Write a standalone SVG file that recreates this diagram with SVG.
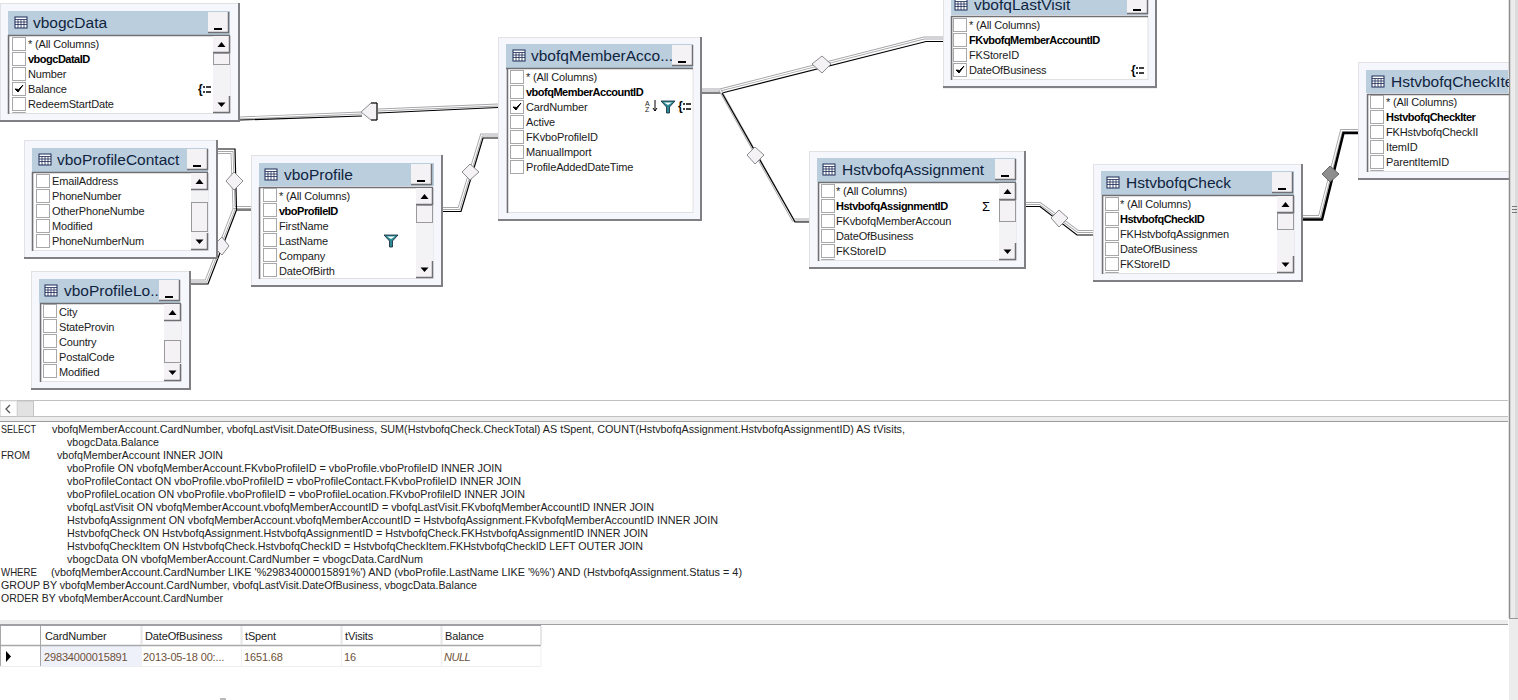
<svg xmlns="http://www.w3.org/2000/svg" width="1518" height="700" viewBox="0 0 1518 700">
<style>
text{font-family:"Liberation Sans",Arial,sans-serif;font-size:11px;fill:#1a1a1a;letter-spacing:-.15px}
.t{font-size:15.5px;fill:#10243f;letter-spacing:0}
.b{font-weight:bold;letter-spacing:-.5px;fill:#000}
.outer{fill:#f6f6fd;stroke:#e2e2e4;stroke-width:1}
.sd{stroke:#808084;stroke-width:2;fill:none}
.band{fill:#bacede}
.list{fill:#fff;stroke:#e0e0e2;stroke-width:1}
.lk{stroke:#707074;stroke-width:1.500;fill:none}
.btn{fill:#f4f2f4;stroke:#9a9a9c;stroke-width:1}
.bf{fill:#f4f2f4}
.bs{fill:none;stroke:#707074;stroke-width:1.500}
.cb{fill:#fff;stroke:#a8a8aa;stroke-width:1}
.track{fill:#f3f3f6}
.w{fill:none;stroke:#a8a8ac;stroke-width:3}
.wi{fill:none;stroke:#fff;stroke-width:1.200}
.k{fill:none;stroke:#000;stroke-width:1.200}
.d{fill:#f4f2f4;stroke:#8a8a8c;stroke-width:1}
.sql{font-size:11px;fill:#222;letter-spacing:0}
.g{fill:#6e5238;font-size:11px}
</style>
<defs>
<g id="tbl"><rect x="0" y="0" width="12" height="11" fill="#fff" stroke="#1b2a55"/><path d="M0 2.500H12M0 5H12M0 7.500H12M3 2.500V11M6 2.500V11M9 2.500V11" stroke="#1b2a55" stroke-width=".8"/></g>
<g id="min"><rect width="21" height="21" class="bf"/><path d="M20.500 0V20.500H0" class="bs"/><path d="M6 17H14" stroke="#000" stroke-width="2"/></g>
<g id="cb"><rect x=".5" y=".5" width="13" height="13" class="cb"/></g>
<path id="chk" d="M3 7l3 3 5-7-4.500 4.500z" fill="#000" stroke="#000"/>
<g id="up"><rect width="17" height="17" class="bf"/><path d="M16.500 0V16.500H0" class="bs"/><path d="M4.500 11H12.500L8.500 6z" fill="#000"/></g>
<g id="dn"><rect width="17" height="17" class="bf"/><path d="M16.500 0V16.500H0" class="bs"/><path d="M4.500 6.500H12.500L8.500 11z" fill="#000"/></g>
<g id="fn"><path d="M0 0H14L8.500 6V12H5.500V6z" fill="#2b8c96" stroke="#123" stroke-width=".8"/><path d="M3 1.500H11L7 4z" fill="#fff"/></g>
<g id="gb"><text x="0" y="8" style="font-size:12px;font-weight:bold;fill:#000">{</text><path d="M5 2H7M5 7H7M8 2H13M8 7H13" stroke="#000" stroke-width="1.600"/></g>
</defs>
<rect width="1518" height="700" fill="#fff"/>

<g id="connectors">
<path class="w" d="M240 118L362 113M378 110L498 105"/><path class="wi" d="M240 118L362 113M378 110L498 105"/><path class="k" d="M240 120L362 116M378 113L498 107.500"/>
<path class="d" d="M361 112L371 103H377V120H371z"/><path d="M371 103H377V120H371" fill="none" stroke="#000"/>

<path class="w" d="M218 152.500H232L234 207.500H251M191 281H206L234 209"/><path class="wi" d="M218 152.500H232L234 207.500H251M191 281H206L234 209"/>
<path class="k" d="M218 149H235L236.500 210H251M191 284H208L236.500 210"/>
<path class="d" d="M226 181L234 172L243 181L234 190z"/>
<path class="d" d="M213 246L222 237L229 246L222 255z"/>

<path class="w" d="M443 208.500H459L481.500 135H498"/><path class="wi" d="M443 208.500H459L481.500 135H498"/><path class="k" d="M443 211.500H461L483 138H498"/>
<path class="d" d="M462 172L470 164L479 172L470 180z"/>

<path class="w" d="M702 90H720L924 38H943"/><path class="wi" d="M702 90H720L924 38H943"/><path class="k" d="M702 93H722L926 41.500H943"/>
<path class="d" d="M812 64L822 56L831 64L822 73z"/>

<path class="w" d="M720 90L793 220H809"/><path class="wi" d="M720 90L793 220H809"/><path class="k" d="M722 93L795 222H809"/>
<path class="d" d="M747 155L755 147L764 155L755 164z"/>

<path class="w" d="M1026 203.500H1040L1078 231.500H1093"/><path class="wi" d="M1026 203.500H1040L1078 231.500H1093"/><path class="k" d="M1026 206.500H1040L1077 235H1093"/>
<path class="d" d="M1051 218L1059 210L1068 218L1059 227z"/>

<path class="w" d="M1303 216.500H1319.500L1341.500 130.500H1358"/><path class="wi" d="M1303 216.500H1319.500L1341.500 130.500H1358"/><path fill="none" stroke="#000" stroke-width="2.500" d="M1303 219.500H1322L1343.500 133H1358"/>
<path d="M1322 174L1330 166L1339 174L1330 182z" fill="#8e8e8e" stroke="#666"/>
</g>

<g id="vbogcData">
<rect x="0.500" y="3.500" width="239" height="118" class="outer"/><path class="sd" d="M239 3V121H0"/>
<rect x="8" y="11" width="222" height="24" class="band"/>
<use href="#tbl" x="15" y="17"/><text class="t" x="33" y="28">vbogcData</text>
<use href="#min" x="208" y="12"/>
<rect x="9" y="35.500" width="221" height="78" class="list"/><path class="lk" d="M8.500 35V114M8 35.500H230"/>
<use href="#cb" x="12" y="37"/><use href="#cb" x="12" y="52"/><use href="#cb" x="12" y="67"/><use href="#cb" x="12" y="82"/><use href="#chk" x="12" y="82"/><use href="#cb" x="12" y="97"/>
<path d="M12.500 113V112.500H25.500V113" fill="none" stroke="#a8a8aa"/>
<text x="28" y="48">* (All Columns)</text><text class="b" x="28" y="63">vbogcDataID</text><text x="28" y="78">Number</text><text x="28" y="93">Balance</text><text x="28" y="108">RedeemStartDate</text>
<use href="#gb" x="198" y="85"/>
<rect x="213" y="36" width="17" height="77" class="track"/><use href="#up" x="213" y="36"/><rect x="213.500" y="53.500" width="16" height="11" class="btn"/><use href="#dn" x="213" y="96"/>
</g>

<g id="vboProfileContact">
<rect x="24.500" y="140.500" width="193" height="118" class="outer"/><path class="sd" d="M217 140V258H24"/>
<rect x="32" y="148" width="176" height="24" class="band"/>
<use href="#tbl" x="39" y="154"/><text class="t" x="57" y="165">vboProfileContact</text>
<use href="#min" x="187" y="149"/>
<rect x="33" y="172.500" width="175" height="78" class="list"/><path class="lk" d="M32.500 172V251M32 172.500H208"/>
<use href="#cb" x="36" y="174"/><use href="#cb" x="36" y="189"/><use href="#cb" x="36" y="204"/><use href="#cb" x="36" y="219"/><use href="#cb" x="36" y="234"/>
<text x="52" y="185">EmailAddress</text><text x="52" y="200">PhoneNumber</text><text x="52" y="215">OtherPhoneNumbe</text><text x="52" y="230">Modified</text><text x="52" y="245">PhoneNumberNum</text>
<rect x="191" y="173" width="17" height="77" class="track"/><use href="#up" x="191" y="173"/><rect x="191.500" y="202.500" width="16" height="29" class="btn"/><use href="#dn" x="191" y="233"/>
</g>

<g id="vboProfile">
<rect x="251.500" y="155.500" width="191" height="131" class="outer"/><path class="sd" d="M442 155V286H251"/>
<rect x="259" y="163" width="175" height="23" class="band"/>
<use href="#tbl" x="265" y="169"/><text class="t" x="284" y="180">vboProfile</text>
<use href="#min" x="411" y="164"/>
<rect x="260" y="187.500" width="173" height="91" class="list"/><path class="lk" d="M259.500 187V279M259 187.500H433"/>
<use href="#cb" x="263" y="188"/><use href="#cb" x="263" y="203"/><use href="#cb" x="263" y="218"/><use href="#cb" x="263" y="233"/><use href="#cb" x="263" y="248"/><use href="#cb" x="263" y="263"/>
<text x="279" y="200">* (All Columns)</text><text class="b" x="279" y="215">vboProfileID</text><text x="279" y="230">FirstName</text><text x="279" y="245">LastName</text><text x="279" y="260">Company</text><text x="279" y="275">DateOfBirth</text>
<use href="#fn" x="384" y="235"/>
<rect x="416" y="188" width="17" height="90" class="track"/><use href="#up" x="416" y="188"/><rect x="416.500" y="205.500" width="16" height="17" class="btn"/><use href="#dn" x="416" y="261"/>
</g>

<g id="vboProfileLocation">
<rect x="31.500" y="271.500" width="159" height="118" class="outer"/><path class="sd" d="M190 271V389H31"/>
<rect x="39" y="279" width="141" height="24" class="band"/>
<use href="#tbl" x="45" y="285"/><text class="t" x="64" y="296">vboProfileLo...</text>
<use href="#min" x="159" y="280"/>
<rect x="41" y="303.500" width="140" height="78" class="list"/><path class="lk" d="M40.500 303V382M40 303.500H181"/>
<use href="#cb" x="43" y="304"/><use href="#cb" x="43" y="319"/><use href="#cb" x="43" y="334"/><use href="#cb" x="43" y="349"/><use href="#cb" x="43" y="364"/>
<text x="59" y="316">City</text><text x="59" y="331">StateProvin</text><text x="59" y="346">Country</text><text x="59" y="361">PostalCode</text><text x="59" y="376">Modified</text>
<rect x="164" y="304" width="17" height="77" class="track"/><use href="#up" x="164" y="304"/><rect x="164.500" y="340.500" width="16" height="22" class="btn"/><use href="#dn" x="164" y="364"/>
</g>

<g id="vbofqMemberAccount">
<rect x="498.500" y="37.500" width="203" height="183" class="outer"/><path class="sd" d="M701 37V220H498"/>
<rect x="506" y="44" width="187" height="24" class="band"/>
<use href="#tbl" x="513" y="50"/><text class="t" x="531" y="61">vbofqMemberAcco...</text>
<use href="#min" x="672" y="45"/>
<rect x="507" y="68.500" width="186" height="144" class="list"/><path class="lk" d="M507.500 68V213M506 68.500H693"/>
<use href="#cb" x="510" y="70"/><use href="#cb" x="510" y="85"/><use href="#cb" x="510" y="100"/><use href="#chk" x="510" y="100"/><use href="#cb" x="510" y="115"/><use href="#cb" x="510" y="130"/><use href="#cb" x="510" y="145"/><use href="#cb" x="510" y="160"/>
<text x="526" y="81">* (All Columns)</text><text class="b" x="526" y="96">vbofqMemberAccountID</text><text x="526" y="111">CardNumber</text><text x="526" y="126">Active</text><text x="526" y="141">FKvboProfileID</text><text x="526" y="156">ManualImport</text><text x="526" y="171">ProfileAddedDateTime</text>
<text x="645" y="106" style="font-size:7px">A</text><text x="645" y="112" style="font-size:7px">Z</text><path d="M655 100V111M653 108L655 111L657 108" stroke="#000" fill="none"/>
<use href="#fn" x="661" y="101"/><use href="#gb" x="678" y="102"/>
</g>

<g id="vbofqLastVisit">
<rect x="943.500" y="-4" width="213" height="92" class="outer"/><path class="sd" d="M1156 0V87H943"/>
<rect x="951" y="-4" width="197" height="19" class="band"/>
<use href="#tbl" x="955" y="-1"/><text class="t" x="974" y="10">vbofqLastVisit</text>
<use href="#min" x="1127" y="-7"/>
<rect x="952" y="16.500" width="196" height="63" class="list"/><path class="lk" d="M951.500 16V80M951 16.500H1148"/>
<use href="#cb" x="953" y="18"/><use href="#cb" x="953" y="33"/><use href="#cb" x="953" y="48"/><use href="#cb" x="953" y="63"/><use href="#chk" x="953" y="63"/>
<text x="969" y="29">* (All Columns)</text><text class="b" x="969" y="44">FKvbofqMemberAccountID</text><text x="969" y="59">FKStoreID</text><text x="969" y="74">DateOfBusiness</text>
<use href="#gb" x="1131" y="66"/>
</g>

<g id="HstvbofqAssignment">
<rect x="809.500" y="151.500" width="216" height="117" class="outer"/><path class="sd" d="M1025 151V268H809"/>
<rect x="817" y="158" width="199" height="24" class="band"/>
<use href="#tbl" x="823" y="164"/><text class="t" x="842" y="175">HstvbofqAssignment</text>
<use href="#min" x="995" y="159"/>
<rect x="819" y="182.500" width="197" height="78" class="list"/><path class="lk" d="M818.500 182V261M818 182.500H1016"/>
<use href="#cb" x="821" y="184"/><use href="#cb" x="821" y="199"/><use href="#cb" x="821" y="214"/><use href="#cb" x="821" y="229"/><use href="#cb" x="821" y="244"/>
<path d="M821.500 260V259.500H834.500V260" fill="none" stroke="#a8a8aa"/>
<text x="836" y="195">* (All Columns)</text><text class="b" x="836" y="210">HstvbofqAssignmentID</text><text x="836" y="225">FKvbofqMemberAccoun</text><text x="836" y="240">DateOfBusiness</text><text x="836" y="255">FKStoreID</text>
<text x="982" y="211" style="font-size:13px;fill:#000">Σ</text>
<rect x="999" y="183" width="17" height="77" class="track"/><use href="#up" x="999" y="183"/><rect x="999.500" y="200.500" width="16" height="21" class="btn"/><use href="#dn" x="999" y="243"/>
</g>

<g id="HstvbofqCheck">
<rect x="1093.500" y="164.500" width="209" height="117" class="outer"/><path class="sd" d="M1302 164V281H1093"/>
<rect x="1101" y="171" width="193" height="24" class="band"/>
<use href="#tbl" x="1107" y="177"/><text class="t" x="1126" y="188">HstvbofqCheck</text>
<use href="#min" x="1272" y="172"/>
<rect x="1103" y="195.500" width="191" height="78" class="list"/><path class="lk" d="M1102.500 195V274M1102 195.500H1294"/>
<use href="#cb" x="1105" y="197"/><use href="#cb" x="1105" y="212"/><use href="#cb" x="1105" y="227"/><use href="#cb" x="1105" y="242"/><use href="#cb" x="1105" y="257"/>
<path d="M1105.500 273V272.500H1118.500V273" fill="none" stroke="#a8a8aa"/>
<text x="1120" y="208">* (All Columns)</text><text class="b" x="1120" y="223">HstvbofqCheckID</text><text x="1120" y="238">FKHstvbofqAssignmen</text><text x="1120" y="253">DateOfBusiness</text><text x="1120" y="268">FKStoreID</text>
<rect x="1277" y="196" width="17" height="77" class="track"/><use href="#up" x="1277" y="196"/><rect x="1277.500" y="213.500" width="16" height="16" class="btn"/><use href="#dn" x="1277" y="256"/>
</g>

<g id="HstvbofqCheckItem">
<rect x="1358.500" y="62.500" width="152" height="117" class="outer"/><path class="sd" d="M1358 179H1510"/>
<rect x="1366" y="70" width="142" height="23" class="band"/>
<use href="#tbl" x="1372" y="76"/><text class="t" x="1391" y="87">HstvbofqCheckIte</text>
<rect x="1368" y="94.500" width="142" height="77" class="list"/><path class="lk" d="M1367.500 94V172M1367 94.500H1510"/>
<use href="#cb" x="1370" y="95"/><use href="#cb" x="1370" y="110"/><use href="#cb" x="1370" y="125"/><use href="#cb" x="1370" y="140"/><use href="#cb" x="1370" y="155"/>
<path d="M1370.500 171V170.500H1383.500V171" fill="none" stroke="#a8a8aa"/>
<text x="1386" y="106">* (All Columns)</text><text class="b" x="1386" y="121">HstvbofqCheckIter</text><text x="1386" y="136">FKHstvbofqCheckII</text><text x="1386" y="151">ItemID</text><text x="1386" y="166">ParentItemID</text>
</g>

<g id="frame">
<rect x="1509" y="0" width="9" height="700" fill="#ececec"/>
<rect x="1515" y="0" width="3" height="618" fill="#dcdcdc"/>
<path d="M1509.500 0V618" stroke="#8c8c8c" stroke-width="1.500"/>
<path d="M1509 618.500H1518" stroke="#9a9a9a"/>
<path d="M1512 206.500H1517M1512 209.500H1517M1512 212.500H1517" stroke="#777"/>
<path d="M0 400.500H1508M0 416.500H1508" stroke="#c0c0c0"/>
<rect x="0" y="417" width="1508" height="4" fill="#ededed"/>
<path d="M0 421.500H1508" stroke="#9c9c9e"/>
<rect x="17.500" y="401" width="16" height="15.500" fill="#e2e2e2" stroke="#c4c4c4"/>
<path d="M0.500 401V416M1 401H17V416" fill="none" stroke="#e0e0e0"/>
<path d="M10 405L6 409L10 413" fill="none" stroke="#555" stroke-width="1.300"/>
<rect x="220" y="698" width="6" height="2" fill="#bbb"/>
</g>

<g id="sql">
<text class="sql" x="1" y="433" textLength="35" lengthAdjust="spacingAndGlyphs">SELECT</text><text class="sql" x="52" y="433" textLength="853" lengthAdjust="spacingAndGlyphs">vbofqMemberAccount.CardNumber, vbofqLastVisit.DateOfBusiness, SUM(HstvbofqCheck.CheckTotal) AS tSpent, COUNT(HstvbofqAssignment.HstvbofqAssignmentID) AS tVisits,</text>
<text class="sql" x="67" y="446" textLength="92" lengthAdjust="spacingAndGlyphs">vbogcData.Balance</text>
<text class="sql" x="1" y="459" textLength="29" lengthAdjust="spacingAndGlyphs">FROM</text><text class="sql" x="57" y="459" textLength="166" lengthAdjust="spacingAndGlyphs">vbofqMemberAccount INNER JOIN</text>
<text class="sql" x="67" y="472" textLength="435" lengthAdjust="spacingAndGlyphs">vboProfile ON vbofqMemberAccount.FKvboProfileID = vboProfile.vboProfileID INNER JOIN</text>
<text class="sql" x="67" y="485" textLength="454" lengthAdjust="spacingAndGlyphs">vboProfileContact ON vboProfile.vboProfileID = vboProfileContact.FKvboProfileID INNER JOIN</text>
<text class="sql" x="67" y="498" textLength="458" lengthAdjust="spacingAndGlyphs">vboProfileLocation ON vboProfile.vboProfileID = vboProfileLocation.FKvboProfileID INNER JOIN</text>
<text class="sql" x="67" y="511" textLength="587" lengthAdjust="spacingAndGlyphs">vbofqLastVisit ON vbofqMemberAccount.vbofqMemberAccountID = vbofqLastVisit.FKvbofqMemberAccountID INNER JOIN</text>
<text class="sql" x="67" y="524" textLength="651" lengthAdjust="spacingAndGlyphs">HstvbofqAssignment ON vbofqMemberAccount.vbofqMemberAccountID = HstvbofqAssignment.FKvbofqMemberAccountID INNER JOIN</text>
<text class="sql" x="67" y="537" textLength="581" lengthAdjust="spacingAndGlyphs">HstvbofqCheck ON HstvbofqAssignment.HstvbofqAssignmentID = HstvbofqCheck.FKHstvbofqAssignmentID INNER JOIN</text>
<text class="sql" x="67" y="550" textLength="576" lengthAdjust="spacingAndGlyphs">HstvbofqCheckItem ON HstvbofqCheck.HstvbofqCheckID = HstvbofqCheckItem.FKHstvbofqCheckID LEFT OUTER JOIN</text>
<text class="sql" x="67" y="563" textLength="356" lengthAdjust="spacingAndGlyphs">vbogcData ON vbofqMemberAccount.CardNumber = vbogcData.CardNum</text>
<text class="sql" x="1" y="576" textLength="36" lengthAdjust="spacingAndGlyphs">WHERE</text><text class="sql" x="51" y="576" textLength="691" lengthAdjust="spacingAndGlyphs">(vbofqMemberAccount.CardNumber LIKE '%29834000015891%') AND (vboProfile.LastName LIKE '%%') AND (HstvbofqAssignment.Status = 4)</text>
<text class="sql" x="1" y="589" textLength="476" lengthAdjust="spacingAndGlyphs">GROUP BY vbofqMemberAccount.CardNumber, vbofqLastVisit.DateOfBusiness, vbogcData.Balance</text>
<text class="sql" x="1" y="602" textLength="222" lengthAdjust="spacingAndGlyphs">ORDER BY vbofqMemberAccount.CardNumber</text>
</g>

<g id="results">
<rect x="0" y="620" width="1508" height="4" fill="#ededed"/>
<path d="M0 624.500H1508" stroke="#a0a0a4"/><path d="M0 625H541" stroke="#a0a0a4" stroke-width="2"/>
<rect x="41" y="646" width="100" height="20" fill="#eef0fa"/>
<path d="M0 645.500H541" stroke="#a8a8a8" stroke-width="1.500"/><path d="M0 666.500H541" stroke="#eeeeee"/>
<path d="M141.500 626V645M241.500 626V645M341.500 626V645M441.500 626V645M541 626V645" stroke="#e6e6e6" stroke-width="2"/>
<path d="M141.500 646V666M241.500 646V666M341.500 646V666M441.500 646V666M541 646V666" stroke="#f0f0f0"/>
<path d="M40.500 626V666M0.500 626V666" stroke="#a8a8a8"/>
<text x="45" y="640">CardNumber</text><text x="145" y="640">DateOfBusiness</text><text x="245" y="640">tSpent</text><text x="345" y="640">tVisits</text><text x="445" y="640">Balance</text>
<path d="M6 651V662L11 656.500z" fill="#000"/>
<text class="g" x="44" y="661">29834000015891</text><text class="g" x="143" y="661">2013-05-18 00:...</text><text class="g" x="244" y="661">1651.68</text><text class="g" x="344" y="661">16</text><text class="g" x="444" y="661" style="font-style:italic;letter-spacing:-.5px">NULL</text>
</g>
</svg>
